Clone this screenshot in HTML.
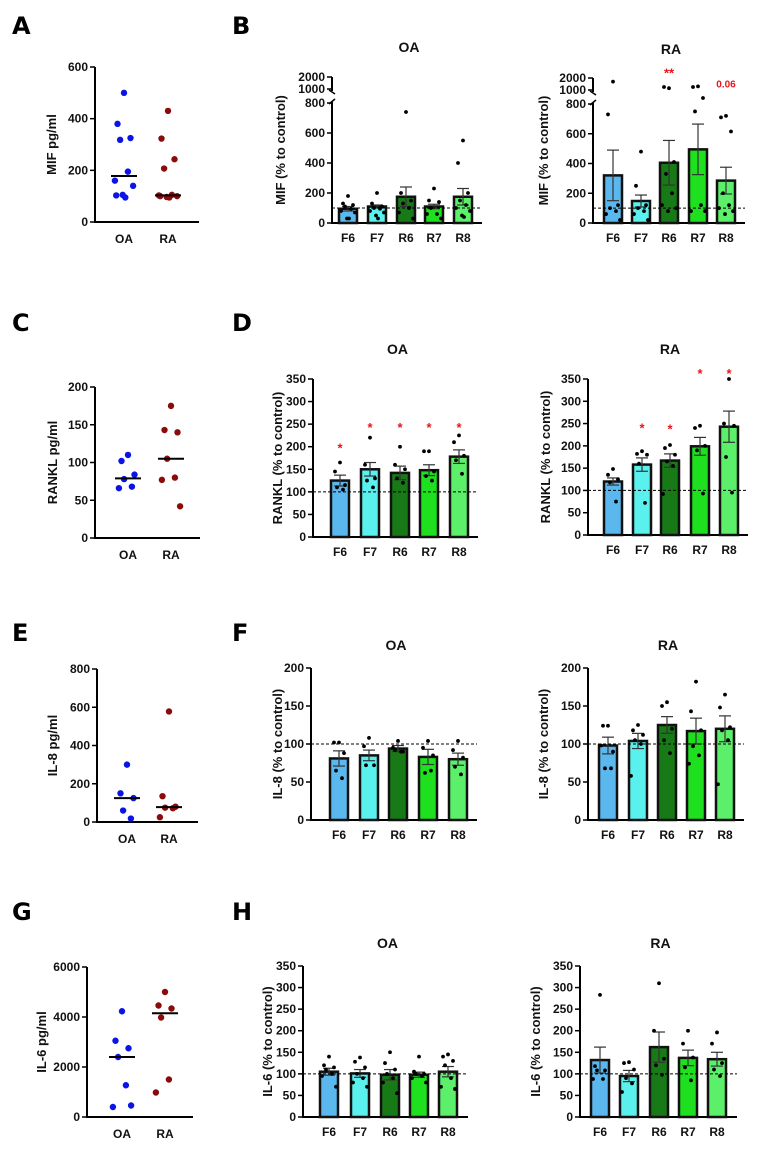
<!DOCTYPE html>
<html><head><meta charset="utf-8"><style>
html,body{margin:0;padding:0;background:#fff;}
svg{display:block;font-family:"Liberation Sans",Arial,sans-serif;}
.tick{font-size:12px;font-weight:bold;fill:#111;}
.ttl{font-size:13px;font-weight:bold;fill:#111;}
.ptitle{font-size:14px;font-weight:bold;fill:#111;}
.plabel{font-size:24px;font-weight:bold;fill:#000;font-family:"DejaVu Sans","Liberation Sans",sans-serif;}
</style></head><body>
<svg id="fig" width="760" height="1149" viewBox="0 0 760 1149"></svg>
<script>
// ---- categories ----
const groupCats = ["OA","RA"];
const barCats = ["F6","F7","R6","R7","R8"];
// ---- A: MIF pg/ml ----
const aTicks = [0,200,400,600];
const aOA = [500,380,325,318,195,160,140,105,95,103];
const aRA = [430,323,243,207,105,103,100,97,95,100];
const aMed = [178,103];
// ---- B: MIF % control ----
const bTicks = [0,200,400,600,800,1000,2000];
const bOAmean = [95,110,175,110,175];
const bOAsem = [15,10,65,15,55];
const bOApts = [[180,130,120,110,95,80,70,30,30],[200,130,110,100,95,80,70,50,30],[740,200,150,130,100,70,30],[230,150,140,100,60,60,30],[550,400,200,150,120,100,80,50,40]];
const bRAmean = [320,148,405,495,285];
const bRAsem = [170,40,150,170,90];
const bRApts = [[1700,730,120,100,80,60,20],[480,250,120,100,80,60,20],[1150,1250,410,330,200,120,100,80],[1300,1250,950,750,120,80,80],[720,710,615,200,120,100,80,60]];
const bRAsig = ["","","**","","0.06"];
// ---- C: RANKL pg/ml ----
const cTicks = [0,50,100,150,200];
const cOA = [110,102,84,78,68,66];
const cRA = [175,143,140,105,80,77,42];
const cMed = [79,105];
// ---- D: RANKL % control ----
const dTicks = [0,50,100,150,200,250,300,350];
const dOAmean = [125,150,142,148,178];
const dOAsem = [12,15,15,12,15];
const dOApts = [[165,145,115,110,105],[220,160,130,125,110],[200,160,150,130,120],[190,190,145,135,125],[225,210,180,170,140]];
const dOAsig = ["*","*","*","*","*"];
const dOAsigVal = [205,250,250,250,250];
const dRAmean = [120,158,167,199,243];
const dRAsem = [8,15,15,20,35];
const dRApts = [[148,135,125,118,75],[188,182,180,160,72],[202,195,180,165,155,92],[245,240,200,190,93],[350,250,245,175,95]];
const dRAsig = ["","*","*","*","*"];
const dRAsigVal = [0,248,246,370,370];
// ---- E: IL-8 pg/ml ----
const eTicks = [0,200,400,600,800];
const eOA = [300,150,125,60,18];
const eRA = [578,135,80,75,72,25];
const eMed = [125,78];
// ---- F: IL-8 % control ----
const fTicks = [0,50,100,150,200];
const fOAmean = [81,85,94,83,80];
const fOAsem = [10,7,4,10,8];
const fOApts = [[102,102,88,65,55],[108,97,72,72],[104,95,90,92,90],[104,95,85,62,65],[104,92,82,70,60]];
const fRAmean = [98,104,125,117,120];
const fRAsem = [11,10,11,17,17];
const fRApts = [[124,124,90,68,68,98],[125,118,112,105,100,58],[155,150,120,105,88],[182,143,118,97,85,74],[165,148,122,118,105,47]];
// ---- G: IL-6 pg/ml ----
const gTicks = [0,2000,4000,6000];
const gOA = [4230,3050,2750,2400,1270,400,460];
const gRA = [5000,4460,4340,3980,1500,980];
const gMed = [2400,4150];
// ---- H: IL-6 % control ----
const hTicks = [0,50,100,150,200,250,300,350];
const hOAmean = [105,101,98,98,105];
const hOAsem = [8,9,12,6,12];
const hOApts = [[140,120,115,110,100,95,70],[138,128,115,100,90,80,70],[150,125,110,100,90,80,55],[140,105,100,100,95,90,80],[145,140,130,120,90,70,65]];
const hRAmean = [132,95,162,137,134];
const hRAsem = [30,13,35,18,16];
const hRApts = [[283,118,108,108,88,88],[127,125,110,90,78,58],[310,200,135,120,98],[200,170,138,115,85],[196,170,125,110,95]];

const NS="http://www.w3.org/2000/svg";
const svg=document.getElementById('fig');
function mk(tag,attrs,parent){const e=document.createElementNS(NS,tag);for(const k in attrs)e.setAttribute(k,attrs[k]);(parent||svg).appendChild(e);return e;}
const barColors=["#5ab8ee","#5af0ee","#177a17","#1fe01f","#5cf06a"];
const jit=[0,-5,5,-3,3,-7,7,-1,1,-6,6];

function linScale(y0,yTop,max){return v=>y0-(v/max)*(y0-yTop);}
function breakScale(y0,y800,y1000,y2000){return v=>{if(v<=800)return y0-(v/800)*(y0-y800);if(v<1000)return y800-6;return y1000-(v-1000)/1000*(y1000-y2000);};}

function axes(g,x0,x1,y0,yTop,ticks,ys,ttl,ttlX,brk){
  if(!brk){
    const l=mk('line',{x1:x0,y1:y0,x2:x0,y2:yTop,stroke:'#000','stroke-width':2},g);
    
    
  } else {
    mk('line',{x1:x0,y1:y0,x2:x0,y2:ys(800)-1,stroke:'#000','stroke-width':2},g);
    mk('line',{x1:x0-3,y1:ys(800)+1,x2:x0+3,y2:ys(800)-4,stroke:'#000','stroke-width':1.5},g);
    mk('line',{x1:x0,y1:ys(2000),x2:x0,y2:ys(1000)+2,stroke:'#000','stroke-width':2},g);
    mk('line',{x1:x0-3,y1:ys(1000)+1,x2:x0+3,y2:ys(1000)+5,stroke:'#000','stroke-width':1.5},g);
  }
  const xl=mk('line',{x1:x0-1,y1:y0,x2:x1,y2:y0,stroke:'#000','stroke-width':2},g);
  
  
  ticks.forEach(t=>{const y=ys(t);
    mk('line',{x1:x0-5,y1:y,x2:x0,y2:y,stroke:'#000','stroke-width':1.5},g);
    const tx=mk('text',{x:x0-7,y:y+4,'text-anchor':'end',class:'tick'},g);tx.textContent=t;
    
    
  });
  const yc=(y0+(brk?ys(2000):yTop))/2;
  const tt=mk('text',{x:ttlX,y:yc,'text-anchor':'middle',class:'ttl',transform:`rotate(-90 ${ttlX} ${yc})`},g);
  tt.textContent=ttl;
  
  
}

function scatterPanel(name,x0,x1,y0,yTop,ticks,max,xs,sets,meds,ttl,ttlX){
  const g=mk('g',{});
  
  
  const ys=linScale(y0,yTop,max);
  axes(g,x0,x1,y0,yTop,ticks,ys,ttl,ttlX,false);
  const cols=["#0a14e6","#8b0a0a"];
  sets.forEach((arr,ci)=>{
    arr.forEach((v,i)=>{const c=mk('circle',{cx:xs[ci]+jit[i%jit.length]*1.3,cy:ys(v),r:3.2,fill:cols[ci]},g);
      
      });
    const m=mk('line',{x1:xs[ci]-13,x2:xs[ci]+13,y1:ys(meds[ci]),y2:ys(meds[ci]),stroke:'#000','stroke-width':2},g);
    
    
    const t=mk('text',{x:xs[ci],y:y0+21,'text-anchor':'middle',class:'tick'},g);t.textContent=groupCats[ci];
    
    
  });
}

function barPanel(name,x0,x1,y0,ys,yTop,ticks,xs,means,sems,pts,ttl,ttlX,title,titleY,brk,sig,sigVals){
  const g=mk('g',{});
  
  
  axes(g,x0,x1,y0,yTop,ticks,ys,ttl,ttlX,brk);
  const tt=mk('text',{x:(x0+x1)/2+2,y:titleY,'text-anchor':'middle',class:'ptitle'},g);tt.textContent=title;
  
  
  means.forEach((m,i)=>{
    const x=xs[i],w=18;
    const b=mk('rect',{x:x-w/2,y:ys(m),width:w,height:y0-ys(m),fill:barColors[i],stroke:'#111','stroke-width':2.5},g);
    
    
    const eT=ys(m+sems[i]),eB=ys(Math.max(0,m-sems[i]));
    mk('line',{x1:x,x2:x,y1:eT,y2:eB,stroke:'#333','stroke-width':1.2},g);
    mk('line',{x1:x-6,x2:x+6,y1:eT,y2:eT,stroke:'#333','stroke-width':1.2},g);
    mk('line',{x1:x-6,x2:x+6,y1:eB,y2:eB,stroke:'#333','stroke-width':1.2},g);
    pts[i].forEach((v,j)=>{const c=mk('circle',{cx:x+jit[j%jit.length],cy:ys(v),r:1.9,fill:'#000'},g);
      
      });
    const lb=mk('text',{x:x,y:y0+19,'text-anchor':'middle',class:'tick'},g);lb.textContent=barCats[i];
    
    
    if(sig&&sig[i]){
      const isStar=sig[i].indexOf('*')>=0;
      const s=mk('text',{x:x,y:ys(sigVals[i])+(isStar?8:0),'text-anchor':'middle',fill:'#e8151b','font-size':isStar?'13px':'10px','font-weight':'bold'},g);
      s.textContent=sig[i];
      
      
    }
  });
  const d=mk('line',{x1:x0,x2:x1,y1:ys(100),y2:ys(100),stroke:'#000','stroke-width':1,'stroke-dasharray':'3,2'},g);
  
  
}

function label(t,x,y){const e=mk('text',{x:x,y:y,class:'plabel'});e.textContent=t;
  
  }

label('A',12,34);label('B',232,34);
label('C',12,331);label('D',232,331);
label('E',12,641);label('F',232,641);
label('G',12,920);label('H',232,920);

// A
scatterPanel('panel-a-mif-scatter',95,199,222,67,aTicks,600,[124,168],[aOA,aRA],aMed,'MIF pg/ml',56);
// B
barPanel('panel-b-mif-oa',332,482,223,breakScale(223,103,89,77),103,bTicks,[348,377,406,434,463],bOAmean,bOAsem,bOApts,'MIF (% to control)',285,'OA',52,true);
barPanel('panel-b-mif-ra',593,745,223,breakScale(223,104,90,78),104,bTicks,[613,641,669,698,726],bRAmean,bRAsem,bRApts,'MIF (% to control)',548,'RA',54,true,bRAsig,[0,0,2700,0,1200]);
// C
scatterPanel('panel-c-rankl-scatter',95,200,538,387,cTicks,200,[128,171],[cOA,cRA],cMed,'RANKL pg/ml',57);
// D
barPanel('panel-d-rankl-oa',313,478,537,linScale(537,379,350),379,dTicks,[340,370,400,429,459],dOAmean,dOAsem,dOApts,'RANKL (% to control)',282,'OA',354,false,dOAsig,dOAsigVal);
barPanel('panel-d-rankl-ra',588,748,535,linScale(535,379,350),379,dTicks,[613,642,670,700,729],dRAmean,dRAsem,dRApts,'RANKL (% to control)',550,'RA',354,false,dRAsig,dRAsigVal);
// E
scatterPanel('panel-e-il8-scatter',97,198,822,669,eTicks,800,[127,169],[eOA,eRA],eMed,'IL-8 pg/ml',57);
// F
barPanel('panel-f-il8-oa',311,477,820,linScale(820,668,200),668,fTicks,[339,369,398,428,458],fOAmean,fOAsem,fOApts,'IL-8 (% to control)',282,'OA',650,false);
barPanel('panel-f-il8-ra',588,744,820,linScale(820,668,200),668,fTicks,[608,638,667,696,725],fRAmean,fRAsem,fRApts,'IL-8 (% to control)',548,'RA',650,false);
// G
scatterPanel('panel-g-il6-scatter',87,193,1117,967,gTicks,6000,[122,165],[gOA,gRA],gMed,'IL-6 pg/ml',46);
// H
barPanel('panel-h-il6-oa',303,468,1117,linScale(1117,966,350),966,hTicks,[329,360,390,419,448],hOAmean,hOAsem,hOApts,'IL-6 (% to control)',272,'OA',948,false);
barPanel('panel-h-il6-ra',580,737,1117,linScale(1117,966,350),966,hTicks,[600,629,659,688,717],hRAmean,hRAsem,hRApts,'IL-6 (% to control)',540,'RA',948,false);
</script>
</body></html>
